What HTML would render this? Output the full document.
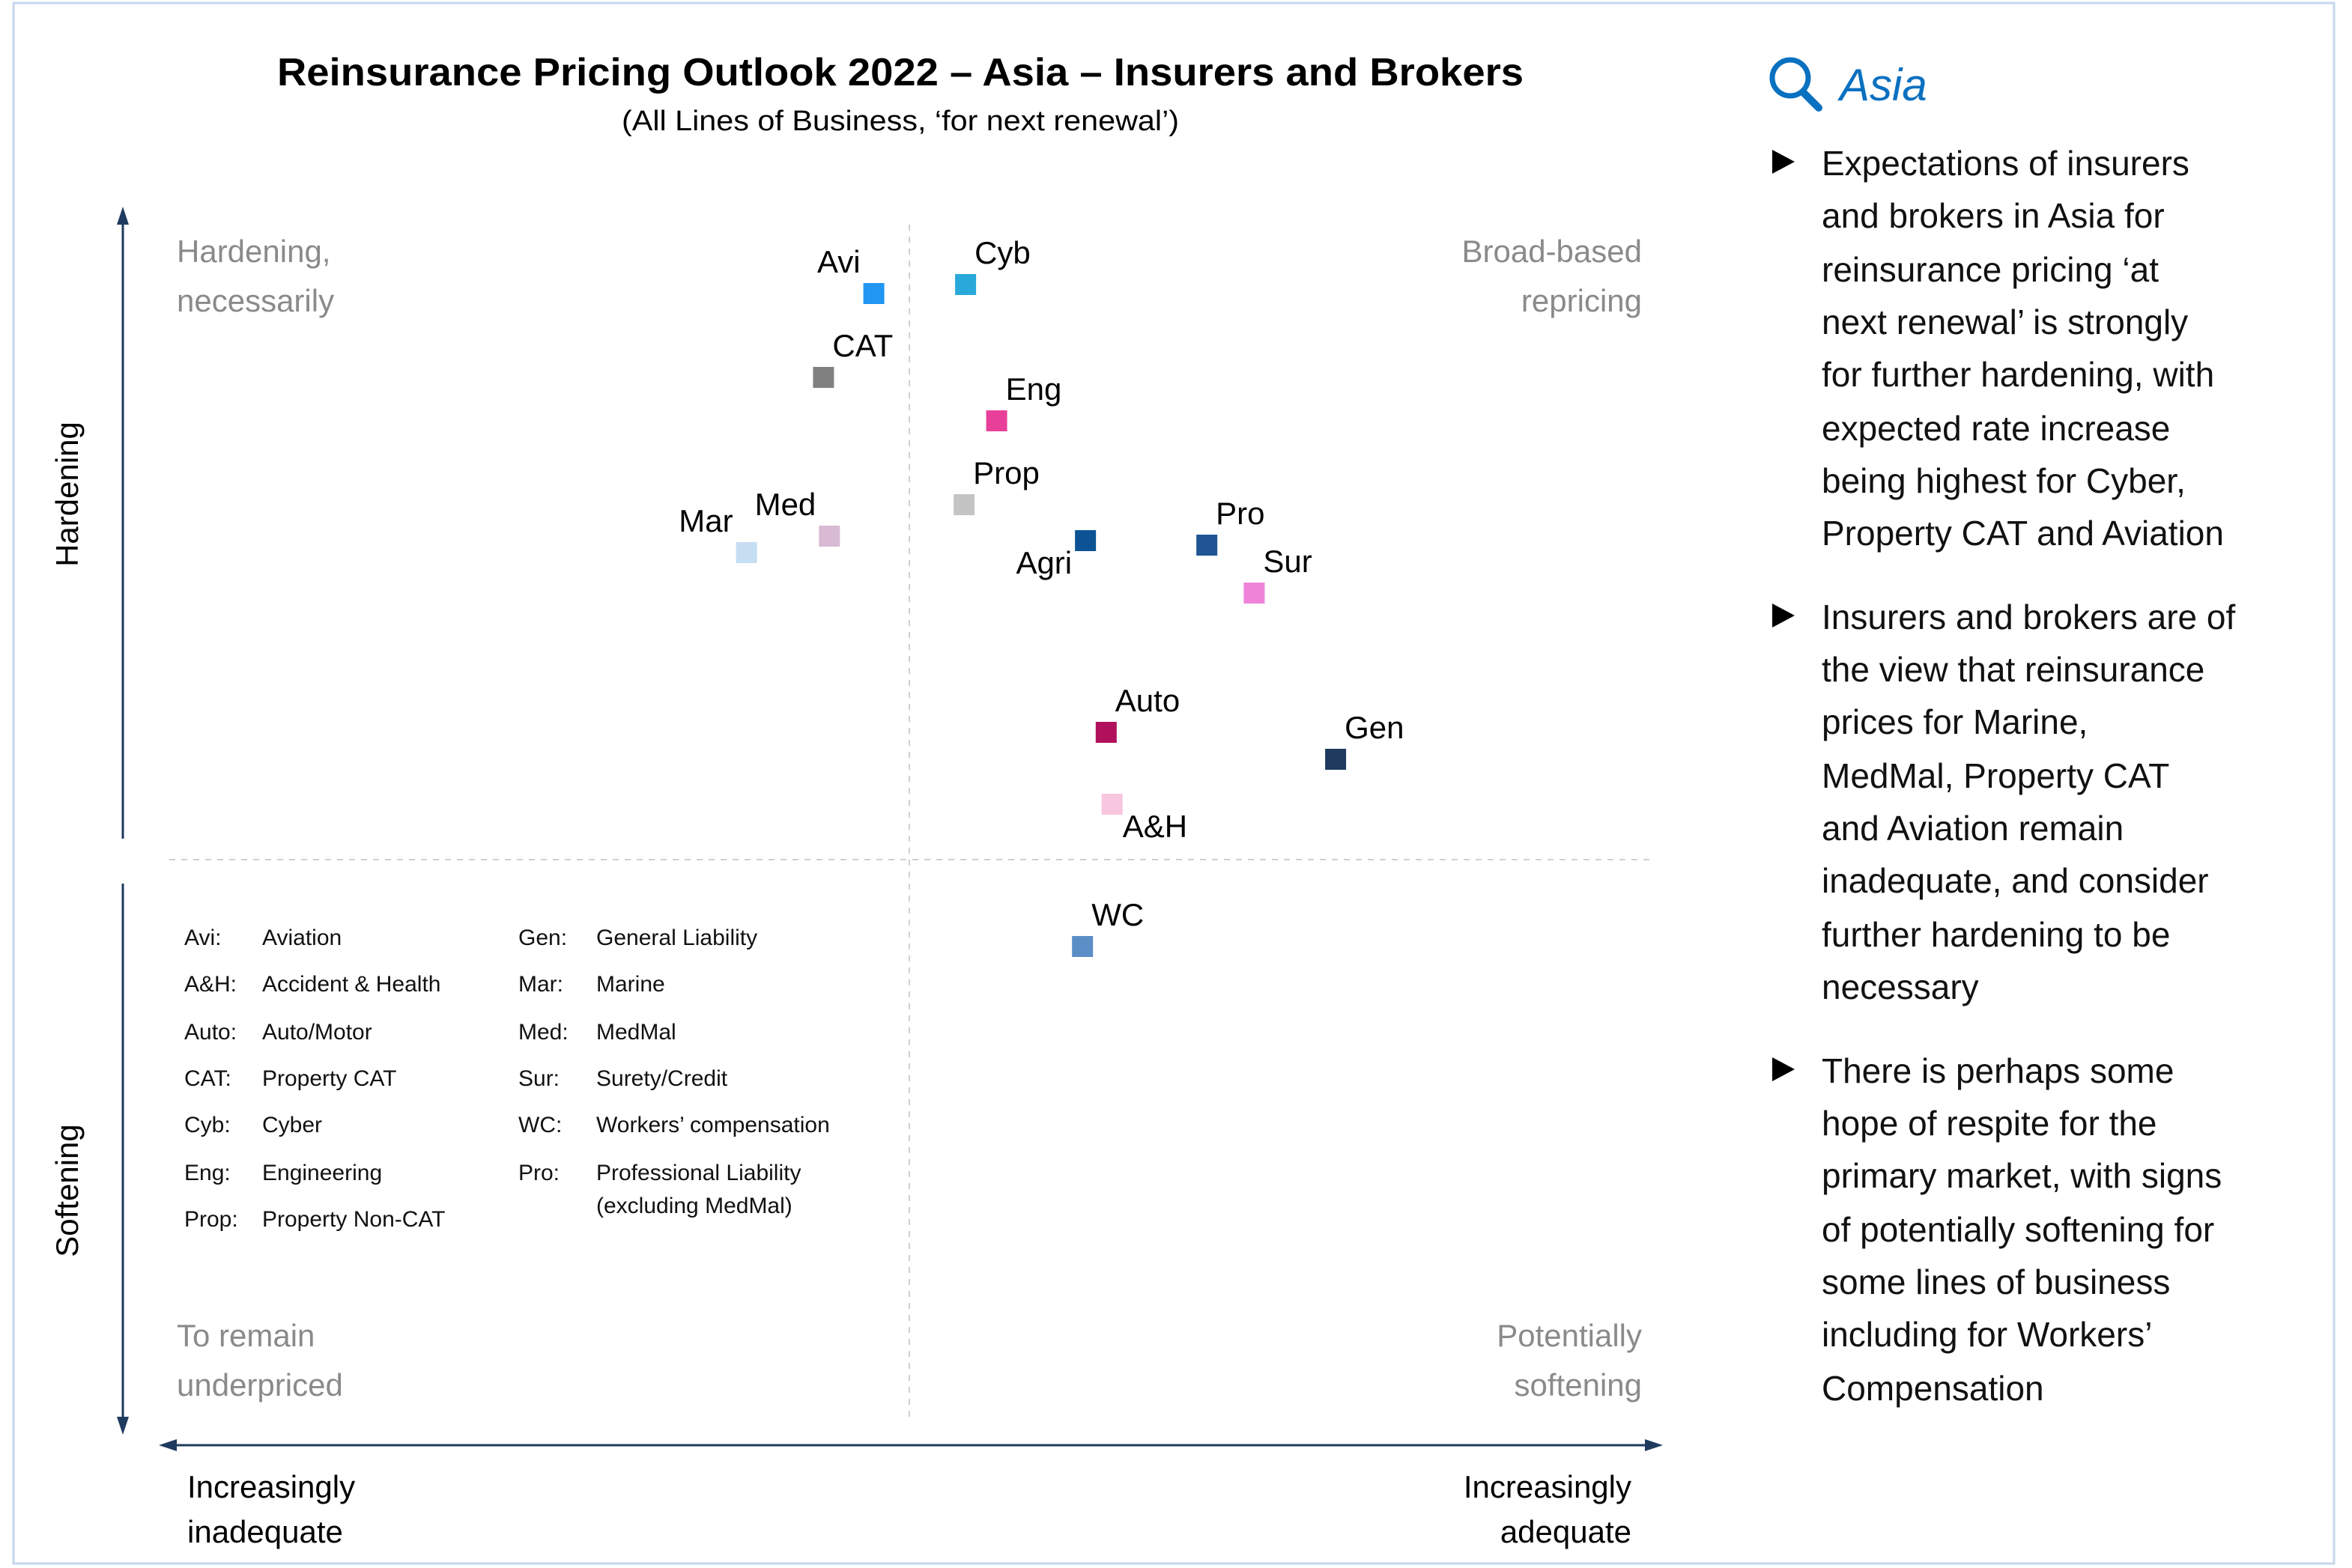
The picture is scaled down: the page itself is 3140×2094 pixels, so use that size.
<!DOCTYPE html>
<html><head><meta charset="utf-8">
<style>
html,body{margin:0;padding:0;background:#fff;}
svg{display:block;font-family:"Liberation Sans",sans-serif;}
</style></head>
<body>
<svg id="chart" width="3140" height="2094" viewBox="0 0 1570 1047" xmlns="http://www.w3.org/2000/svg">
<rect x="9" y="2" width="1549" height="1042" fill="#fff" stroke="#c5d7ec" stroke-width="1.5"/>
<text x="601" y="57" text-anchor="middle" font-size="26" font-weight="bold" textLength="832" lengthAdjust="spacingAndGlyphs">Reinsurance Pricing Outlook 2022 – Asia – Insurers and Brokers</text>
<text x="601" y="87" text-anchor="middle" font-size="19" textLength="372" lengthAdjust="spacingAndGlyphs">(All Lines of Business, ‘for next renewal’)</text>

<line x1="82" y1="146" x2="82" y2="950" stroke="#1f3a5f" stroke-width="1.5"/>
<polygon points="82,138 78,150 86,150" fill="#1f3a5f"/>
<polygon points="82,958 78,946 86,946" fill="#1f3a5f"/>
<rect x="70" y="560" width="24" height="30" fill="#fff"/>
<line x1="114" y1="965" x2="1102" y2="965" stroke="#1f3a5f" stroke-width="1.5"/>
<polygon points="106,965 118,961 118,969" fill="#1f3a5f"/>
<polygon points="1110,965 1098,961 1098,969" fill="#1f3a5f"/>
<line x1="607" y1="150" x2="607" y2="950" stroke="#d0d0d0" stroke-dasharray="4,4"/>
<line x1="113" y1="574" x2="1102" y2="574" stroke="#d0d0d0" stroke-dasharray="4,4"/>

<text transform="translate(52,330) rotate(-90)" text-anchor="middle" font-size="21">Hardening</text>
<text transform="translate(52,795) rotate(-90)" text-anchor="middle" font-size="21">Softening</text>
<text font-size="21"><tspan x="125" y="1000">Increasingly</tspan><tspan x="125" y="1030">inadequate</tspan></text>
<text font-size="21" text-anchor="end"><tspan x="1089" y="1000">Increasingly</tspan><tspan x="1089" y="1030">adequate</tspan></text>

<g fill="#8a8a8a" font-size="21">
<text><tspan x="118" y="175">Hardening,</tspan><tspan x="118" y="208">necessarily</tspan></text>
<text text-anchor="end"><tspan x="1096" y="175">Broad-based</tspan><tspan x="1096" y="208">repricing</tspan></text>
<text><tspan x="118" y="899">To remain</tspan><tspan x="118" y="932">underpriced</tspan></text>
<text text-anchor="end"><tspan x="1096" y="899">Potentially</tspan><tspan x="1096" y="932">softening</tspan></text>
</g>

<g font-size="15" fill="#111">
<text x="123" y="631">Avi:</text><text x="175" y="631">Aviation</text>
<text x="123" y="662">A&amp;H:</text><text x="175" y="662">Accident &amp; Health</text>
<text x="123" y="694">Auto:</text><text x="175" y="694">Auto/Motor</text>
<text x="123" y="725">CAT:</text><text x="175" y="725">Property CAT</text>
<text x="123" y="756">Cyb:</text><text x="175" y="756">Cyber</text>
<text x="123" y="788">Eng:</text><text x="175" y="788">Engineering</text>
<text x="123" y="819">Prop:</text><text x="175" y="819">Property Non-CAT</text>
<text x="346" y="631">Gen:</text><text x="398" y="631">General Liability</text>
<text x="346" y="662">Mar:</text><text x="398" y="662">Marine</text>
<text x="346" y="694">Med:</text><text x="398" y="694">MedMal</text>
<text x="346" y="725">Sur:</text><text x="398" y="725">Surety/Credit</text>
<text x="346" y="756">WC:</text><text x="398" y="756">Workers’ compensation</text>
<text x="346" y="788">Pro:</text><text x="398" y="788">Professional Liability</text>
<text x="398" y="810">(excluding MedMal)</text>
</g>

<g id="points"></g>

<g>
<circle cx="1195" cy="52" r="12" fill="none" stroke="#0a70c0" stroke-width="3.5"/>
<line x1="1204" y1="62" x2="1214" y2="72" stroke="#0a70c0" stroke-width="5" stroke-linecap="round"/>
<text x="1228" y="67" font-size="30" font-style="italic" fill="#0a70c0">Asia</text>
<g font-size="23" fill="#111">
<polygon points="1183,100 1183,116 1198,108" fill="#000"/>
<text><tspan x="1216" y="117">Expectations of insurers</tspan><tspan x="1216" y="152">and brokers in Asia for</tspan><tspan x="1216" y="188">reinsurance pricing ‘at</tspan><tspan x="1216" y="223">next renewal’ is strongly</tspan><tspan x="1216" y="258">for further hardening, with</tspan><tspan x="1216" y="294">expected rate increase</tspan><tspan x="1216" y="329">being highest for Cyber,</tspan><tspan x="1216" y="364">Property CAT and Aviation</tspan></text>
<polygon points="1183,403 1183,419 1198,411" fill="#000"/>
<text><tspan x="1216" y="420">Insurers and brokers are of</tspan><tspan x="1216" y="455">the view that reinsurance</tspan><tspan x="1216" y="490">prices for Marine,</tspan><tspan x="1216" y="526">MedMal, Property CAT</tspan><tspan x="1216" y="561">and Aviation remain</tspan><tspan x="1216" y="596">inadequate, and consider</tspan><tspan x="1216" y="632">further hardening to be</tspan><tspan x="1216" y="667">necessary</tspan></text>
<polygon points="1183,706 1183,722 1198,714" fill="#000"/>
<text><tspan x="1216" y="723">There is perhaps some</tspan><tspan x="1216" y="758">hope of respite for the</tspan><tspan x="1216" y="793">primary market, with signs</tspan><tspan x="1216" y="829">of potentially softening for</tspan><tspan x="1216" y="864">some lines of business</tspan><tspan x="1216" y="899">including for Workers’</tspan><tspan x="1216" y="935">Compensation</tspan></text>
</g>
</g>
</svg>
<script>
const categories = ["Avi","Cyb","CAT","Eng","Prop","Med","Mar","Agri","Pro","Sur","Auto","Gen","A&H","WC"];
const adequacy = [-0.24,0.38,-0.58,0.59,0.37,-0.54,-1.10,1.19,2.01,2.33,1.33,2.88,1.37,1.17];
const hardening = [3.78,3.84,3.22,2.93,2.37,2.16,2.05,2.13,2.10,1.78,0.85,0.67,0.37,-0.58];
const colors = ["#2196f3","#29a9d9","#808080","#e8409a","#c4c4c4","#d8bad2","#c6def2","#0b5394","#1f5592","#ee84d8","#b0105c","#1f3a5f","#f8c6df","#5b8dc6"];
const labelSide = ["tl","tr","tr","tr","tr","tl","tl","bl","tr","tr","tr","tr","br","tr"];

const X0 = 607, XS = 98.8, Y0 = 574, YS = 100;
function xScale(v){ return X0 + v*XS; }
function yScale(v){ return Y0 - v*YS; }
const NS = "http://www.w3.org/2000/svg";
const g = document.getElementById("points");
categories.forEach((c,i)=>{
  const cx = xScale(adequacy[i]), cy = yScale(hardening[i]);
  const r = document.createElementNS(NS,"rect");
  
  
  r.setAttribute("x", cx-7); r.setAttribute("y", cy-7);
  r.setAttribute("width", 14); r.setAttribute("height", 14);
  r.setAttribute("fill", colors[i]);
  g.appendChild(r);
  const t = document.createElementNS(NS,"text");
  
  
  t.setAttribute("font-size", "21");
  const s = labelSide[i];
  let tx = cx, ty = cy;
  if (s[1]==="r"){ tx = cx+6; t.setAttribute("text-anchor","start"); }
  else { tx = cx-9; t.setAttribute("text-anchor","end"); }
  if (s[0]==="t"){ ty = cy-14; } else { ty = cy+22; }
  if (s==="br"){ tx = cx+7; }
  t.setAttribute("x", tx); t.setAttribute("y", ty);
  t.textContent = c;
  g.appendChild(t);
});
</script>
</body></html>
